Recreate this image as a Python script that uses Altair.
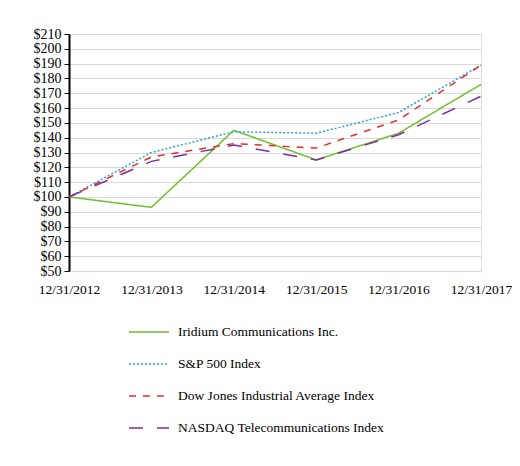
import altair as alt
import pandas as pd

dates = ["12/31/2012", "12/31/2013", "12/31/2014", "12/31/2015", "12/31/2016", "12/31/2017"]
series_names = [
    "Iridium Communications Inc.",
    "S&P 500 Index",
    "Dow Jones Industrial Average Index",
    "NASDAQ Telecommunications Index",
]
iridium = [100, 93, 145, 125, 143, 176]
sp500 = [100, 130, 144, 143, 157, 189]
dow = [100, 127, 136, 133, 152, 189]
nasdaq = [100, 124, 135, 125, 142, 168]

colors = ["#70bf2b", "#2f9fd8", "#e0322e", "#7a2f9e"]
dashes = [[1, 0], [2, 2], [7, 7], [14, 14]]

rows = []
for name, vals in zip(series_names, [iridium, sp500, dow, nasdaq]):
    for d, v in zip(dates, vals):
        rows.append({"date": d, "value": v, "series": name})
df = pd.DataFrame(rows)

FONT = "Liberation Serif, Times New Roman, serif"

chart = alt.Chart(df).mark_line(strokeWidth=1.5).encode(
    x=alt.X("date:O", sort=dates, scale=alt.Scale(type="point", padding=0),
            axis=alt.Axis(title=None, labelAngle=0, domain=False, ticks=False,
                          labelPadding=11, labelFontSize=13.5, labelFont=FONT,
                          labelColor="#000", grid=False)),
    y=alt.Y("value:Q", scale=alt.Scale(domain=[50, 210], nice=False, zero=False),
            axis=alt.Axis(title=None, values=list(range(50, 211, 10)), format="$d",
                          domainColor="#000", domainWidth=2, tickColor="#000",
                          tickSize=5, labelFontSize=14, labelFont=FONT,
                          labelColor="#000", labelPadding=3,
                          gridColor="#d9d9d9", gridWidth=1)),
    color=alt.Color("series:N", sort=series_names,
                    scale=alt.Scale(domain=series_names, range=colors),
                    legend=alt.Legend(title=None, orient="none", legendX=59, legendY=277,
                                      symbolType="stroke", symbolSize=1600,
                                      symbolStrokeWidth=1.5, labelFontSize=13.5,
                                      labelFont=FONT, labelColor="#000",
                                      labelLimit=400,
                                      rowPadding=4, labelOffset=8)),
    strokeDash=alt.StrokeDash("series:N", sort=series_names,
                              scale=alt.Scale(domain=series_names, range=dashes),
                              legend=None),
).properties(
    width=412, height=237,
    autosize=alt.AutoSizeParams(type="none"),
    padding={"left": 61, "top": 26, "right": 31, "bottom": 185},
).configure_view(stroke=None).configure(background="white")

chart.save("out.html", embed_options={"renderer": "svg", "actions": False})
